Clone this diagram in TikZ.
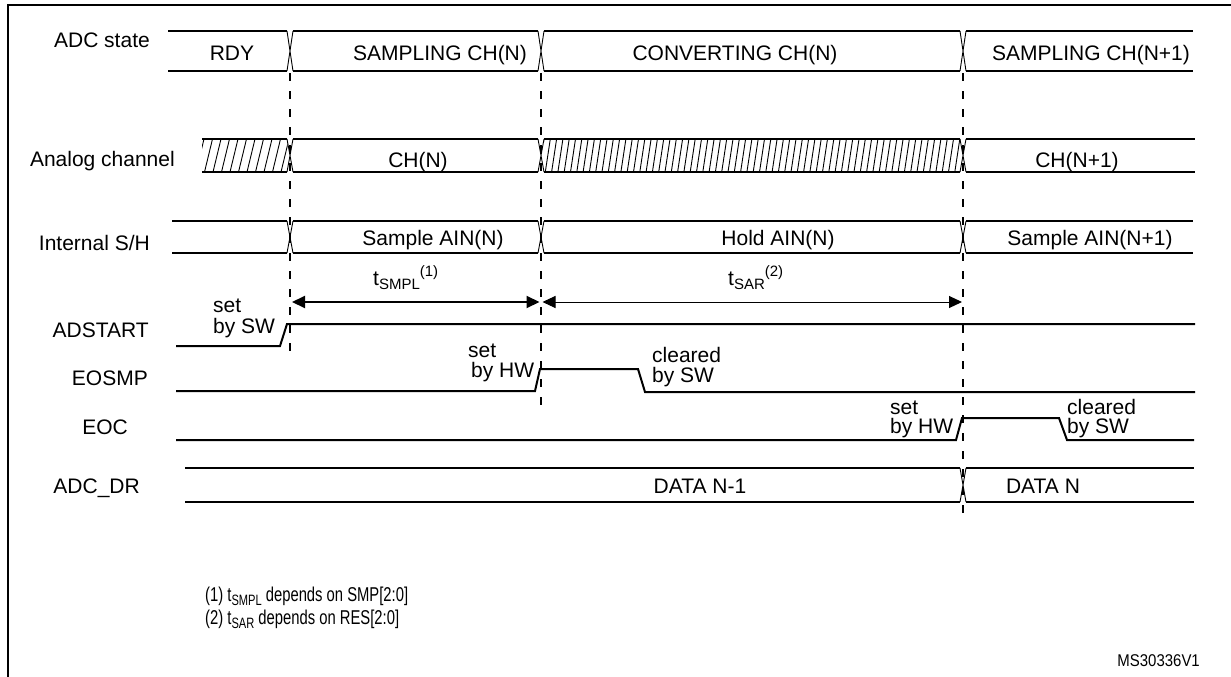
\documentclass[tikz,border=0pt]{standalone}
\usepackage{fontspec}
\setmainfont{Liberation Sans}
\newfontfamily\narrowfont[FakeStretch=0.74]{Liberation Sans}
\newfontfamily\msfont[FakeStretch=0.88]{Liberation Sans}
\usetikzlibrary{arrows.meta}
\newcommand\busseg[4]{\draw[sig] (#3,#1) -- (#4,#1) (#3,#2) -- (#4,#2);}
\newcommand\buscross[3]{\draw[xline] (#1-3,#2) -- (#1+3,#3) (#1-3,#3) -- (#1+3,#2);}
\newcommand\subs[1]{\raisebox{-4pt}{\fontsize{15}{15}\selectfont #1}}
\newcommand\sups[1]{\raisebox{9pt}{\fontsize{15}{15}\selectfont #1}}
\newcommand\fsubs[1]{\raisebox{-4pt}{\fontsize{15}{15}\selectfont #1}}
\begin{document}
\begin{tikzpicture}[x=1pt,y=-1pt,
  sig/.style={line width=2pt,line join=miter},
  xline/.style={line width=0.9pt},
  hatch/.style={line width=0.9pt},
  vdash/.style={line width=2pt,dash pattern=on 8pt off 10pt},
  lbl/.style={font=\fontsize{21}{21}\selectfont,inner sep=0pt,anchor=base east},
  txt/.style={font=\fontsize{21}{21}\selectfont,inner sep=0pt,anchor=base},
  ltxt/.style={font=\fontsize{21}{21}\selectfont,inner sep=0pt,anchor=base west},
  fn/.style={font=\narrowfont\fontsize{20}{20}\selectfont,inner sep=0pt,anchor=base west},
  dtip/.style={{Triangle[length=13pt,width=12pt]}-{Triangle[length=13pt,width=12pt]}}]
\useasboundingbox (0,0) rectangle (1231,677);
% frame
\draw[line width=2.5pt] (1231,5) -- (8,5) -- (8,677);
% dashed verticals
\draw[vdash] (290,73) -- (290,357);
\draw[vdash] (541,73) -- (541,410);
\draw[vdash] (963,73) -- (963,522);
% ---------- ADC state
\node[lbl] (lADC) at (150,48) {ADC state};
\busseg{31}{71}{168}{287}\buscross{290}{31}{71}
\busseg{31}{71}{293}{538}\buscross{541}{31}{71}
\busseg{31}{71}{544}{960}\buscross{963}{31}{71}
\busseg{31}{71}{966}{1193}
\node[txt] (rdy) at (232,60) {RDY};
\node[txt] (s1) at (440,60) {SAMPLING CH(N)};
\node[txt] (c1) at (735,60) {CONVERTING CH(N)};
\node[txt] (s2) at (1091,60) {SAMPLING CH(N+1)};
% ---------- Analog channel
\node[lbl] (lAn) at (175,166) {Analog channel};
\busseg{139}{172}{202}{287}\buscross{290}{139}{172}
\busseg{139}{172}{293}{538}\buscross{541}{139}{172}
\busseg{139}{172}{544}{960}\buscross{963}{139}{172}
\busseg{139}{172}{966}{1195}
\begin{scope}
  \clip (202,139) rectangle (287.5,172);
  \foreach \x in {196,204.5,...,292} \draw[hatch] (\x,172) -- (\x+8,139);
\end{scope}
\begin{scope}
  \clip (544,139) rectangle (960.5,172);
  \foreach \x in {539,545.3,...,966} \draw[hatch] (\x,172) -- (\x+5,139);
\end{scope}
\node[txt] (chn) at (418,167) {CH(N)};
\node[txt] (chn1) at (1077,167) {CH(N+1)};
% ---------- Internal S/H
\node[lbl] (lSH) at (150,250) {Internal S/H};
\busseg{221}{253}{172}{287}\buscross{290}{221}{253}
\busseg{221}{253}{293}{538}\buscross{541}{221}{253}
\busseg{221}{253}{544}{960}\buscross{963}{221}{253}
\busseg{221}{253}{966}{1193}
\node[txt] (sa1) at (433,245) {Sample AIN(N)};
\node[txt] (ho) at (778,245) {Hold AIN(N)};
\node[txt] (sa2) at (1090,245) {Sample AIN(N+1)};
% ---------- timing arrows
\coordinate (a0) at (292,302);
\coordinate (a1) at (539.5,302);
\coordinate (a2) at (542.5,302);
\coordinate (a3) at (962,302);
\draw[line width=2pt,dtip] (a0) -- (a1);
\draw[line width=1pt,dtip] (a2) -- (a3);
\node[ltxt] (tsmpl) at (373,285) {t\subs{SMPL}\sups{(1)}};
\node[ltxt] (tsar) at (728,285) {t\subs{SAR}\sups{(2)}};
% ---------- ADSTART
\node[lbl] (lADS) at (149,337) {ADSTART};
\draw[sig] (176,346) -- (280,346) -- (287,324) -- (1195,324);
\node[ltxt] (sw1) at (213,312) {set};
\node[ltxt] (sw2) at (213,333) {by SW};
% ---------- EOSMP
\node[lbl] (lEOS) at (148,385) {EOSMP};
\draw[sig] (176,391) -- (535,391) -- (540,369) -- (638,369) -- (645,392) -- (1195,392);
\node[ltxt] (hw1) at (468,357) {set};
\node[ltxt] (hw2) at (471,377) {by HW};
\node[ltxt] (cl1) at (652,362) {cleared};
\node[ltxt] (cl2) at (652,382) {by SW};
% ---------- EOC
\node[lbl] (lEOC) at (128,434) {EOC};
\draw[sig] (176,440) -- (956,440) -- (962,418) -- (1059,418) -- (1067,440) -- (1194,440);
\node[ltxt] (hw3) at (890,414) {set};
\node[ltxt] (hw4) at (890,433) {by HW};
\node[ltxt] (cl3) at (1067,414) {cleared};
\node[ltxt] (cl4) at (1067,433) {by SW};
% ---------- ADC_DR
\node[lbl] (lDR) at (140,493) {ADC\_DR};
\busseg{468}{502}{185}{960}\buscross{963}{468}{502}
\busseg{468}{502}{966}{1194}
\node[txt] (d1) at (700,493) {DATA N-1};
\node[txt] (d2) at (1043,493) {DATA N};
% ---------- footnotes
\node[fn] (f1) at (205,601) {(1) t\fsubs{SMPL} depends on SMP[2:0]};
\node[fn] (f2) at (205,624) {(2) t\fsubs{SAR} depends on RES[2:0]};
\node[font=\msfont\fontsize{17}{17}\selectfont,inner sep=0pt,anchor=base east] (ms) at (1200,666) {MS30336V1};
\end{tikzpicture}
\end{document}
